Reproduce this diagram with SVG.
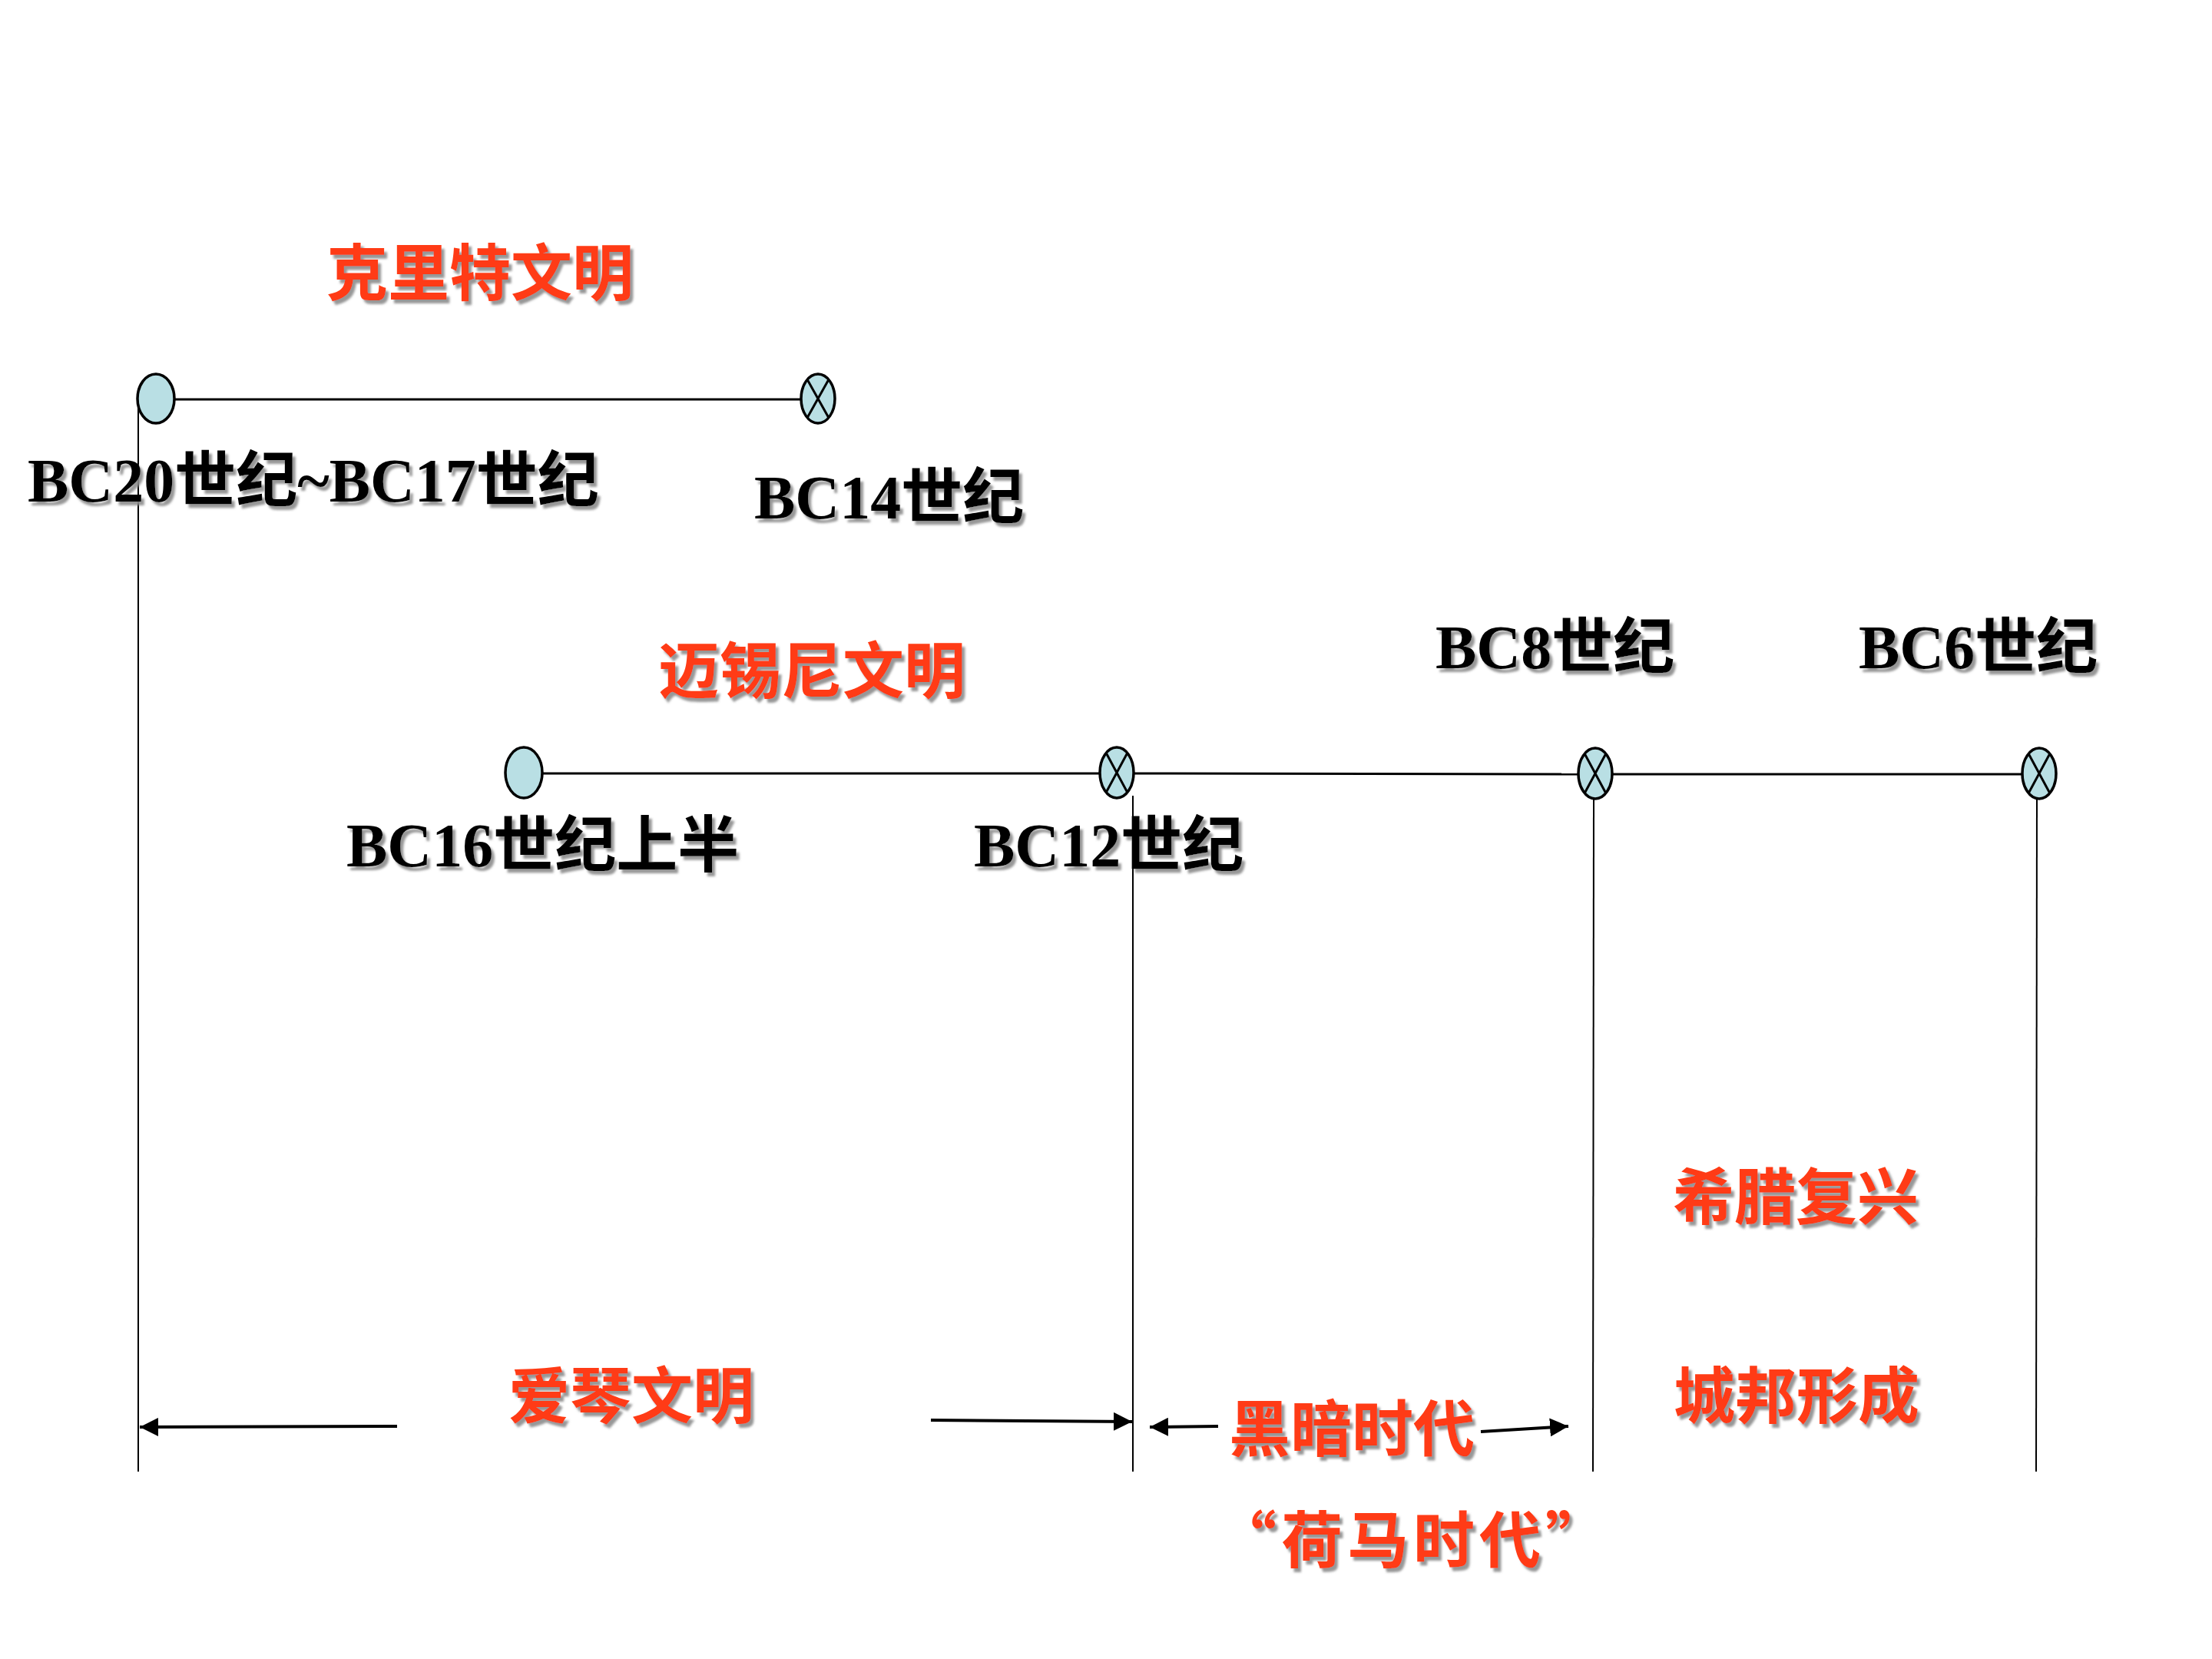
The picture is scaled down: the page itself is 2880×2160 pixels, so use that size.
<svg xmlns="http://www.w3.org/2000/svg" width="2880" height="2160" viewBox="0 0 2880 2160">
<defs>
<style>
.red{font-family:"Noto Sans CJK SC","Noto Sans CJK TC",sans-serif;font-weight:700;font-size:80px;fill:#FF3A12;text-anchor:middle;filter:url(#sh)}
.blk{font-family:"Liberation Serif","Noto Sans CJK SC",serif;font-weight:700;font-size:80px;fill:#000;filter:url(#sh)}
.node{fill:#B9DFE4;stroke:#000;stroke-width:3.5}
.tl{stroke:#000;stroke-width:3;fill:none}
.vl{stroke:#000;stroke-width:2;fill:none}
.arr{stroke:#000;stroke-width:4;fill:none;marker-end:url(#ah)}
</style>
<filter id="sh" x="-10%" y="-20%" width="130%" height="150%">
<feDropShadow dx="4" dy="5" stdDeviation="1.5" flood-color="#8c8c8c" flood-opacity="0.9"/>
</filter>
<marker id="ah" markerUnits="userSpaceOnUse" markerWidth="26" markerHeight="24" refX="24" refY="12" orient="auto">
<path d="M0,0 L24,12 L0,24 Z" fill="#000"/>
</marker>
</defs>
<rect width="2880" height="2160" fill="#fff"/>

<g id="connectors">
<line class="tl" x1="228" y1="520" x2="1043" y2="520"/>
<line class="tl" x1="707" y1="1007" x2="1431" y2="1007"/>
<line class="tl" x1="1477" y1="1007" x2="2055" y2="1008"/>
<line class="tl" x1="2099" y1="1008" x2="2632" y2="1008"/>
<line class="vl" x1="180" y1="519" x2="180" y2="1916"/>
<line class="vl" x1="1475" y1="1036" x2="1475" y2="1916"/>
<line class="vl" x1="2075" y1="1038" x2="2074" y2="1916"/>
<line class="vl" x1="2652" y1="1038" x2="2651" y2="1916"/>
<line class="arr" x1="517" y1="1857" x2="182" y2="1858"/>
<line class="arr" x1="1212" y1="1849" x2="1474" y2="1851"/>
<line class="arr" x1="1586" y1="1857" x2="1497" y2="1858"/>
<line class="arr" x1="1928" y1="1864" x2="2042" y2="1857"/>
</g>

<g id="crete-start"><ellipse class="node" cx="203" cy="519" rx="24" ry="32"/></g>
<g id="crete-end"><ellipse class="node" cx="1065" cy="519" rx="22" ry="32"/>
<path class="tl" d="M1051,494 L1079,544 M1079,494 L1051,544"/></g>
<g id="mycenae-start"><ellipse class="node" cx="682" cy="1006" rx="24" ry="33"/></g>
<g id="bc12"><ellipse class="node" cx="1454" cy="1006" rx="22" ry="33"/>
<path class="tl" d="M1440,980 L1468,1032 M1468,980 L1440,1032"/></g>
<g id="bc8"><ellipse class="node" cx="2077" cy="1007" rx="22" ry="33"/>
<path class="tl" d="M2063,981 L2091,1033 M2091,981 L2063,1033"/></g>
<g id="bc6"><ellipse class="node" cx="2655" cy="1007" rx="22" ry="33"/>
<path class="tl" d="M2641,981 L2669,1033 M2669,981 L2641,1033"/></g>

<g id="labels">
<text class="red" x="625" y="384">克里特文明</text>
<text class="blk" x="36" y="653">BC20世纪~BC17世纪</text>
<text class="blk" x="982" y="675">BC14世纪</text>
<text class="red" x="1057" y="902">迈锡尼文明</text>
<text class="blk" x="1869" y="870">BC8世纪</text>
<text class="blk" x="2420" y="870">BC6世纪</text>
<text class="blk" x="451" y="1128">BC16世纪上半</text>
<text class="blk" x="1268" y="1128">BC12世纪</text>
<text class="red" x="2338" y="1587">希腊复兴</text>
<text class="red" x="822" y="1846">爱琴文明</text>
<text class="red" x="2339" y="1846">城邦形成</text>
<text class="red" x="1760" y="1889">黑暗时代</text>
<text class="red" x="1840" y="2034" style="letter-spacing:6px">“荷马时代”</text>
</g>
</svg>
